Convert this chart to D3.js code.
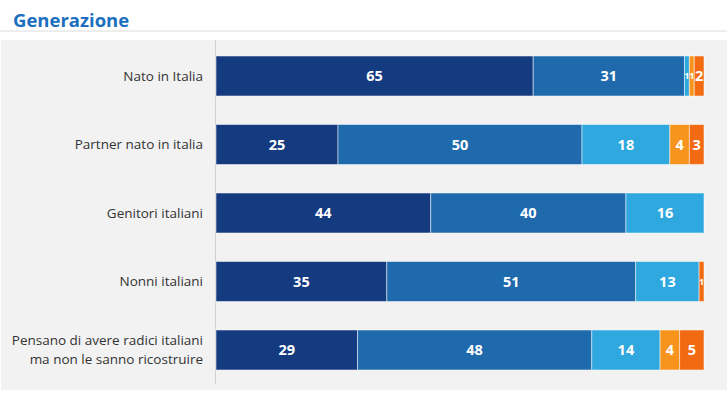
<!DOCTYPE html>
<html>
<head>
<meta charset="utf-8">
<script src="https://cdn.jsdelivr.net/npm/d3@7"></script>
<style>
  body { margin: 0; background: #fff; }
  svg { display: block; font-family: "Open Sans", sans-serif; }
</style>
</head>
<body>
<svg class="main" width="727" height="398"></svg>
<script>
// categories and series
var categories = ['Nato in Italia', 'Partner nato in italia', 'Genitori italiani', 'Nonni italiani',
  'Pensano di avere radici italiani\nma non le sanno ricostruire']
var keys = ['s1', 's2', 's3', 's4', 's5']
var s1 = [65, 25, 44, 35, 29]
var s2 = [31, 50, 40, 51, 48]
var s3 = [1, 18, 16, 13, 14]
var s4 = [1, 4, 0, 0, 4]
var s5 = [2, 3, 0, 1, 5]
var colors = ['#143a7f', '#1f6aad', '#2fa7df', '#f7941d', '#f26a12']

var data = categories.map(function(c, i) {
  return {cat: c, s1: s1[i], s2: s2[i], s3: s3[i], s4: s4[i], s5: s5[i]}
})
var dataset = d3.stack().keys(keys)(data)

var svg = d3.select('svg.main')

// title + rule
svg.append('text')
  .attr('x', 13).attr('y', 27)
  .attr('fill', '#1b6fbe')
  .attr('font-size', 18.5)
  .attr('font-weight', 'bold')
  .text('Generazione')
svg.append('line')
  .attr('x1', 0).attr('x2', 727).attr('y1', 31).attr('y2', 31)
  .attr('stroke', '#dcdcdc')

// grey panel
svg.append('rect')
  .attr('x', 1).attr('y', 40).attr('width', 726).attr('height', 350)
  .attr('fill', '#f2f2f2')

const xScale = d3.scaleLinear().domain([0, 100]).range([216, 704])
const yScale = d3.scaleBand()
  .domain(categories)
  .range([41.75, 384.25])
  .paddingInner(0.416)
  .paddingOuter(0.208)

const color = d3.scaleOrdinal().domain(keys).range(colors)

// axis line
svg.append('line')
  .attr('x1', 215.5).attr('x2', 215.5).attr('y1', 40).attr('y2', 384)
  .attr('stroke', '#d0d0d0')

const groups = svg.selectAll('g.series')
  .data(dataset).enter()
  .append('g')
  .attr('class', 'series')
  .attr('fill', d => color(d.key))

groups.selectAll('rect')
  .data(d => d.filter(v => v[1] > v[0]))
  .join('rect')
  .attr('x', d => xScale(d[0]))
  .attr('y', d => yScale(d.data.cat))
  .attr('width', d => xScale(d[1]) - xScale(d[0]))
  .attr('height', yScale.bandwidth())
  .attr('stroke', '#ffffff')
  .attr('stroke-opacity', 0.5)
  .attr('stroke-width', 1)

// value labels (tiny segments get a smaller font)
groups.selectAll('text')
  .data(d => d.filter(v => v[1] > v[0]))
  .join('text')
  .attr('x', d => (xScale(d[0]) + xScale(d[1])) / 2)
  .attr('y', d => yScale(d.data.cat) + yScale.bandwidth() / 2)
  .attr('dy', '0.35em')
  .attr('text-anchor', 'middle')
  .attr('fill', '#ffffff')
  .attr('font-size', d => (d[1] - d[0]) < 2 ? 9 : 14.5)
  .attr('font-weight', 'bold')
  .text(d => d[1] - d[0])

// category labels
categories.forEach(function(c) {
  var lines = c.split('\n')
  var cy = yScale(c) + yScale.bandwidth() / 2
  var t = svg.append('text')
    .attr('text-anchor', 'end')
    .attr('fill', '#333333')
    .attr('font-size', 13.5)
  lines.forEach(function(l, i) {
    t.append('tspan')
      .attr('x', 203)
      .attr('y', cy + (i - (lines.length - 1) / 2) * 18.5)
      .attr('dy', '0.35em')
      .text(l)
  })
})
</script>
</body>
</html>
